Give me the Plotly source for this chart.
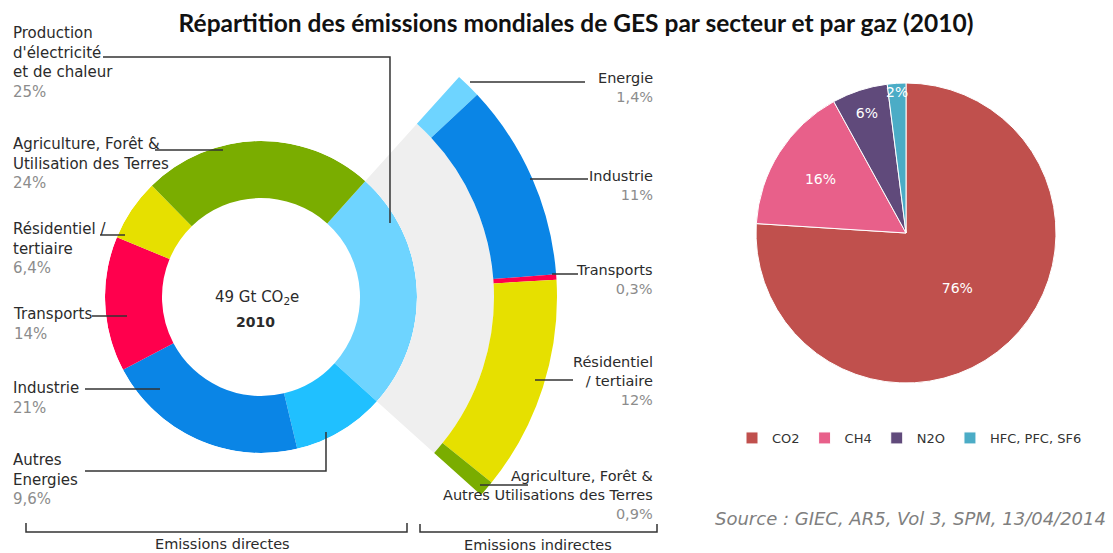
import math
import plotly.graph_objects as go

W, H = 1113, 553

# ---------------- data ----------------
title_text = "Répartition des émissions mondiales de GES par secteur et par gaz (2010)"
direct_labels = ["Production<br>d'électricité<br>et de chaleur", "Autres<br>Energies", "Industrie",
                 "Transports", "Résidentiel /<br>tertiaire", "Agriculture, Forêt &<br>Utilisation des Terres"]
direct_values = [25, 9.6, 21, 14, 6.4, 24]
indirect_labels = ["Energie", "Industrie", "Transports", "Résidentiel<br>/ tertiaire",
                   "Agriculture, Forêt &<br>Autres Utilisations des Terres"]
indirect_values = [1.4, 11, 0.3, 12, 0.9]
gas_labels = ["CO2", "CH4", "N2O", "HFC, PFC, SF6"]
gas_values = [76, 16, 6, 2]
center_lines = ["49 Gt CO<sub>2</sub>e", "2010"]
group_labels = ["Emissions directes", "Emissions indirectes"]
source_text = "Source : GIEC, AR5, Vol 3, SPM, 13/04/2014"

# ---------------- styles ----------------
direct_colors = ["#6ED4FF", "#20C0FF", "#0A85E6", "#FF004D", "#E6E000", "#7AAD00"]
indirect_colors = ["#6ED4FF", "#0A85E6", "#FF004D", "#E6E000", "#7AAD00"]
gas_colors = ["#C0504D", "#E8608A", "#604A7B", "#4BACC6"]
GREY = "#EFEFEF"
TXT = "#2b2b2b"
PCT = "#8c8c8c"
FONT = "DejaVu Sans"

# geometry (pixels)
CX, CY = 261, 297
R_IN, R_OUT = 99, 156
ARC_IN, ARC_OUT = 233, 296
R2 = 300
START = 42
SECTOR = [-44, 50]
PCX, PCY, PR = 906, 233, 150


def px(x):
    return x / W


def py(y):
    return 1 - y / H


def pct(v):
    return f"{v:g}".replace(".", ",") + "%"


fig = go.Figure()

# ---- direct emissions donut ----
tot = sum(direct_values)
thetas, widths, cum = [], [], 0.0
for v in direct_values:
    w = v / tot * 360
    thetas.append(START + cum + w / 2)
    widths.append(w)
    cum += w
fig.add_trace(go.Barpolar(
    r=[R_OUT - R_IN] * len(direct_values), base=[R_IN] * len(direct_values),
    theta=thetas, width=widths, marker=dict(color=direct_colors, line=dict(width=0)),
    subplot="polar", showlegend=False, hoverinfo="skip"))

# ---- indirect emissions arc (redistribution of electricity) ----
elec_start = START
elec_span = widths[0]
itot = sum(indirect_values)
ith, iw, cum = [], [], 0.0
for v in indirect_values:
    w = v / itot * elec_span
    ith.append(elec_start + cum + w / 2)
    iw.append(w)
    cum += w
fig.add_trace(go.Barpolar(
    r=[ARC_IN - R_OUT], base=[R_OUT], theta=[elec_start + elec_span / 2], width=[elec_span],
    marker=dict(color=GREY, line=dict(width=0)), subplot="polar2", showlegend=False, hoverinfo="skip"))
fig.add_trace(go.Barpolar(
    r=[ARC_OUT - ARC_IN] * len(indirect_values), base=[ARC_IN] * len(indirect_values),
    theta=ith, width=iw, marker=dict(color=indirect_colors, line=dict(width=0)),
    subplot="polar2", showlegend=False, hoverinfo="skip"))

# ---- gas pie ----
fig.add_trace(go.Pie(
    labels=gas_labels, values=gas_values, sort=False, direction="clockwise", rotation=0,
    marker=dict(colors=gas_colors, line=dict(color="white", width=1)),
    texttemplate="%{value}%", textposition="inside", insidetextorientation="horizontal",
    textfont=dict(color="white", size=14, family=FONT),
    domain=dict(x=[px(PCX - PR), px(PCX + PR)], y=[py(PCY + PR), py(PCY - PR)]),
    hoverinfo="label+percent"))

hidden_axis = dict(visible=False, showgrid=False, showline=False, showticklabels=False, ticks="")
y1 = math.sin(math.radians(SECTOR[1]))
y0 = math.sin(math.radians(SECTOR[0]))
fig.update_layout(
    width=W, height=H, margin=dict(l=0, r=0, t=0, b=0, autoexpand=False), template="none",
    paper_bgcolor="white", plot_bgcolor="white",
    polar=dict(domain=dict(x=[px(CX - R_OUT), px(CX + R_OUT)], y=[py(CY + R_OUT), py(CY - R_OUT)]),
               bgcolor="rgba(0,0,0,0)",
               radialaxis=dict(range=[0, R_OUT], **hidden_axis),
               angularaxis=dict(rotation=90, direction="clockwise", **hidden_axis)),
    polar2=dict(domain=dict(x=[px(CX), px(CX + R2)], y=[py(CY - y0 * R2), py(CY - y1 * R2)]),
                sector=SECTOR, bgcolor="rgba(0,0,0,0)",
                radialaxis=dict(range=[0, R2], **hidden_axis),
                angularaxis=dict(rotation=90, direction="clockwise", **hidden_axis)),
    title=dict(text="<b>" + title_text + "</b>", x=px(576), y=py(23), xanchor="center", yanchor="middle",
               font=dict(family="Lato", size=24.5, color="#111")),
    legend=dict(orientation="h", x=px(732), xanchor="left", y=py(438), yanchor="middle",
                font=dict(family=FONT, size=13, color="#333"), itemwidth=30,
                bgcolor="rgba(0,0,0,0)"),
    uniformtext=dict(minsize=14, mode="show"),
)


def note(text, x, y, xa="center", size=14.5, color=TXT, align="center"):
    fig.add_annotation(text=text, x=px(x), y=py(y), xref="paper", yref="paper", xanchor=xa,
                       yanchor="middle", align=align, showarrow=False,
                       font=dict(family=FONT, size=size, color=color))


# ---- labels ----
left_pos_y = [62, 479, 398, 324, 248, 163]
for lab, v, yy in zip(direct_labels, direct_values, left_pos_y):
    note(f"{lab}<br><span style='color:{PCT}'>{pct(v)}</span>", 11, yy, xa="left", size=15, align="left")
right_pos_y = [88, 185, 279, 381, 495]
for lab, v, yy in zip(indirect_labels, indirect_values, right_pos_y):
    note(f"{lab}<br><span style='color:{PCT}'>{pct(v)}</span>", 655, yy, xa="right", size=14.5, align="right")

note(center_lines[0], 257, 297, size=15)
note("<b>" + center_lines[1] + "</b>", 255, 322, size=14)
note(group_labels[0], 222, 544)
note(group_labels[1], 538, 545)
note("<i>" + source_text + "</i>", 1108, 518, xa="right", size=18, color="#7f7f7f")

# ---- leader lines and brackets ----
polylines = [
    [(103, 57), (390, 57), (390, 223)],
    [(155, 150), (223, 150)],
    [(100, 235), (125, 235)],
    [(92, 316), (127, 316)],
    [(85, 389), (160, 389)],
    [(85, 471), (326, 471), (326, 432)],
    [(470, 82), (585, 82)],
    [(530, 179), (588, 179)],
    [(552, 274), (578, 274)],
    [(535, 380), (573, 380)],
    [(480, 485), (528, 485)],
    [(26, 523), (26, 532), (407, 532), (407, 523)],
    [(420, 524), (420, 532), (657, 532), (657, 524)],
]
for pl in polylines:
    d = "M " + " L ".join(f"{px(x):.5f},{py(y):.5f}" for x, y in pl)
    fig.add_shape(type="path", path=d, xref="paper", yref="paper", line=dict(color="#333", width=1.5))

fig.write_html("out.html", config={"displayModeBar": False},
               post_script="document.body.style.margin='0px';")
